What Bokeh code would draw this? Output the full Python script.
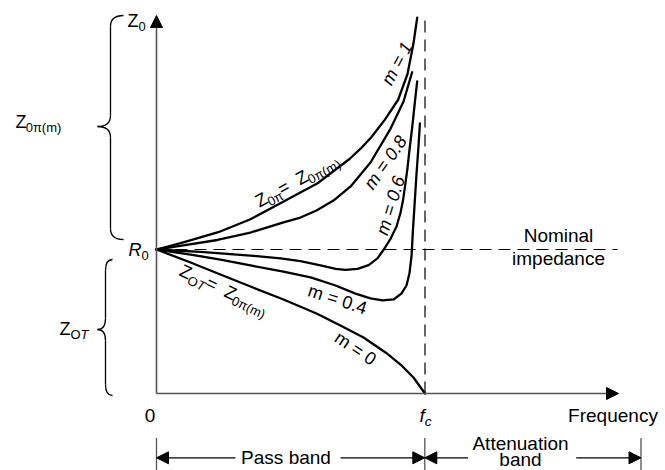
import math
from bokeh.plotting import figure
from bokeh.models import Range1d, Arrow, NormalHead
from bokeh.core.properties import value
from bokeh.embed import file_html
from bokeh.resources import INLINE

# ---- data: normalised frequency f/fc and impedance Z/R0 ----
m1_x = [0, 0.10, 0.23, 0.35, 0.47, 0.60, 0.72, 0.76, 0.80, 0.85, 0.90, 0.935, 0.957, 0.971]
m1_y = [1.0, 1.05, 1.12, 1.21, 1.33, 1.46, 1.63, 1.70, 1.78, 1.90, 2.04, 2.22, 2.43, 2.61]
m08_x = [0, 0.10, 0.227, 0.35, 0.473, 0.536, 0.596, 0.659, 0.723, 0.797, 0.872, 0.92, 0.952]
m08_y = [1.0, 1.028, 1.066, 1.118, 1.188, 1.222, 1.271, 1.34, 1.438, 1.604, 1.84, 2.028, 2.231]
m06_x = [0, 0.164, 0.35, 0.462, 0.536, 0.611, 0.667, 0.704, 0.749, 0.79, 0.823, 0.849, 0.872,
         0.894, 0.909, 0.918, 0.927, 0.935, 0.942, 0.953, 0.963, 0.971]
m06_y = [1.0, 0.983, 0.958, 0.938, 0.92, 0.889, 0.865, 0.858, 0.865, 0.892, 0.938, 1.007, 1.076,
         1.16, 1.257, 1.34, 1.458, 1.569, 1.688, 1.861, 2.035, 2.167]
m04_x = [0, 0.127, 0.238, 0.35, 0.473, 0.574, 0.667, 0.741, 0.797, 0.842, 0.883, 0.912, 0.931,
         0.942, 0.95, 0.955, 0.961, 0.968, 0.976, 0.981]
m04_y = [1.0, 0.965, 0.93, 0.889, 0.847, 0.806, 0.75, 0.694, 0.66, 0.646, 0.653, 0.694, 0.75,
         0.833, 0.958, 1.132, 1.306, 1.514, 1.722, 1.875]
m0_x = [0, 0.127, 0.238, 0.35, 0.473, 0.596, 0.685, 0.771, 0.853, 0.909, 0.957, 1.0]
m0_y = [1.0, 0.91, 0.826, 0.743, 0.653, 0.556, 0.472, 0.389, 0.285, 0.201, 0.111, 0.0]

nominal_z = 1.0   # R0
cutoff_f = 1.0    # fc

FONT = "Liberation Sans"
W, H = 665, 470
SX, SY = 268.5, 144.0          # pixels per data unit


def dx(X):   # canvas pixel -> data x
    return (X - 156) / SX


def dy(Y):   # canvas pixel -> data y
    return (393 - Y) / SY


p = figure(width=W, height=H, x_range=Range1d(dx(0), dx(W)), y_range=Range1d(dy(H), dy(0)),
           x_axis_type=None, y_axis_type=None, toolbar_location=None, output_backend="svg",
           min_border=0, outline_line_color=None)
p.background_fill_color = "white"
p.border_fill_color = "white"

AX = "#555555"
HEAD = dict(size=12, fill_color="black", line_color="black", line_width=1)
# axes with arrow heads
p.add_layout(Arrow(end=NormalHead(**HEAD), x_start=0, y_start=0, x_end=0, y_end=dy(15),
                   line_color=AX, line_width=1.6))
p.add_layout(Arrow(end=NormalHead(**HEAD), x_start=0, y_start=0, x_end=dx(618), y_end=0,
                   line_color=AX, line_width=1.6))

# dashed nominal impedance and cutoff lines
p.line([0, dx(617)], [nominal_z, nominal_z], line_dash="12 7", line_color="black", line_width=1.2)
p.line([cutoff_f, cutoff_f], [0, dy(16)], line_dash="12 7", line_color="black", line_width=1.2)

# curves
for xs, ys in [(m1_x, m1_y), (m08_x, m08_y), (m06_x, m06_y), (m04_x, m04_y), (m0_x, m0_y)]:
    p.line(xs, ys, line_color="black", line_width=2.3, line_join="round", line_cap="round")

# character widths (em) for Liberation Sans
CW = {'Z': .611, '0': .556, '1': .556, '4': .556, '6': .556, '8': .556, 'π': .57, '=': .584,
      ' ': .278, '(': .333, ')': .333, 'm': .833, 'O': .778, 'T': .611, '.': .278, 'R': .722,
      'f': .278, 'c': .5}


def rich(pieces, X, Y, ang=0.0, size=18):
    """pieces: (text, subscript, italic). X,Y = visual centre in canvas pixels."""
    sub = size * 0.72
    widths = [sum(CW.get(ch, .55) for ch in t) * (sub if s else size) for t, s, it in pieces]
    a = math.radians(ang)
    d = -sum(widths) / 2
    for (t, s, it), w in zip(pieces, widths):
        up = -0.32 * size if s else 0.0
        c = d + w / 2
        xo = c * math.cos(a) - up * math.sin(a)
        yo = -c * math.sin(a) - up * math.cos(a)
        p.text(x=[dx(X + xo)], y=[dy(Y + yo)], text=[t], angle=a,
               text_font=value(FONT), text_font_size=f"{(sub if s else size):.1f}px",
               text_font_style="italic" if it else "normal",
               text_align="center", text_baseline="middle", text_color="black")
        d += w


def plain(t, X, Y, size=19):
    p.text(x=[dx(X)], y=[dy(Y)], text=[t], text_font=value(FONT), text_font_size=f"{size}px",
           text_align="center", text_baseline="middle", text_color="black")


# axis labels
rich([("Z", False, False), ("0", True, False)], 136, 20)
rich([("R", False, True), ("0", True, False)], 138, 249)
plain("0", 149.5, 414.5)
rich([("f", False, True), ("c", True, True)], 425, 414.5, size=19)
plain("Frequency", 612.5, 414.5)
plain("Nominal", 558, 234.5)
plain("impedance", 558, 257.5)

# braces on the left
BR = dict(line_color="black", line_width=1.3)


def brace(xv, top, bot, tip_x, tip_y, end_x):
    r = 11
    p.quadratic(x0=[dx(end_x)], y0=[dy(top)], x1=[dx(xv)], y1=[dy(top + r)],
                cx=[dx(xv)], cy=[dy(top)], **BR)
    p.line([dx(xv), dx(xv)], [dy(top + r), dy(tip_y - r)], **BR)
    p.quadratic(x0=[dx(xv)], y0=[dy(tip_y - r)], x1=[dx(tip_x)], y1=[dy(tip_y)],
                cx=[dx(xv)], cy=[dy(tip_y)], **BR)
    p.quadratic(x0=[dx(tip_x)], y0=[dy(tip_y)], x1=[dx(xv)], y1=[dy(tip_y + r)],
                cx=[dx(xv)], cy=[dy(tip_y)], **BR)
    p.line([dx(xv), dx(xv)], [dy(tip_y + r), dy(bot - r)], **BR)
    p.quadratic(x0=[dx(xv)], y0=[dy(bot - r)], x1=[dx(end_x)], y1=[dy(bot)],
                cx=[dx(xv)], cy=[dy(bot)], **BR)


brace(110, 15, 239, 97, 126, 123)
brace(105, 259, 395, 97, 329, 112)
rich([("Z", False, False), ("0π(m)", True, False)], 37.5, 121)
rich([("Z", False, False), ("O", True, False), ("T", True, True)], 73.5, 328)

# curve labels
rich([("Z", False, False), ("0π", True, False), (" = ", False, False), ("Z", False, False),
      ("0π(m)", True, False)], 296, 180, 29)
rich([("m = 1", False, True)], 396.5, 63, 62)
rich([("m = 0.8", False, True)], 385, 162, 55)
rich([("m = 0.6", False, True)], 390, 205, 73)
rich([("m = 0.4", False, False)], 337, 299, -18)
rich([("m = 0", False, False)], 355, 348, -34)
rich([("Z", False, False), ("O", True, False), ("T", True, True), (" = ", False, False),
      ("Z", False, False), ("0π(m)", True, False)], 223, 289, -25)

# band markers
for X in [156, 424.3, 640.5]:
    p.line([dx(X), dx(X)], [dy(437.5), dy(470)], line_color=AX, line_width=1.3)
AY = 457.3
for xs, xe in [(235, 156), (340, 424.3), (467.6, 424.3), (575.7, 640.5)]:
    p.add_layout(Arrow(end=NormalHead(**HEAD), x_start=dx(xs), y_start=dy(AY),
                       x_end=dx(xe), y_end=dy(AY), line_color="black", line_width=1.3))
plain("Pass band", 285.5, AY)
plain("Attenuation", 520, 442.5)
plain("band", 520, 458.5)

open("out.html", "w").write(file_html(p, INLINE))
